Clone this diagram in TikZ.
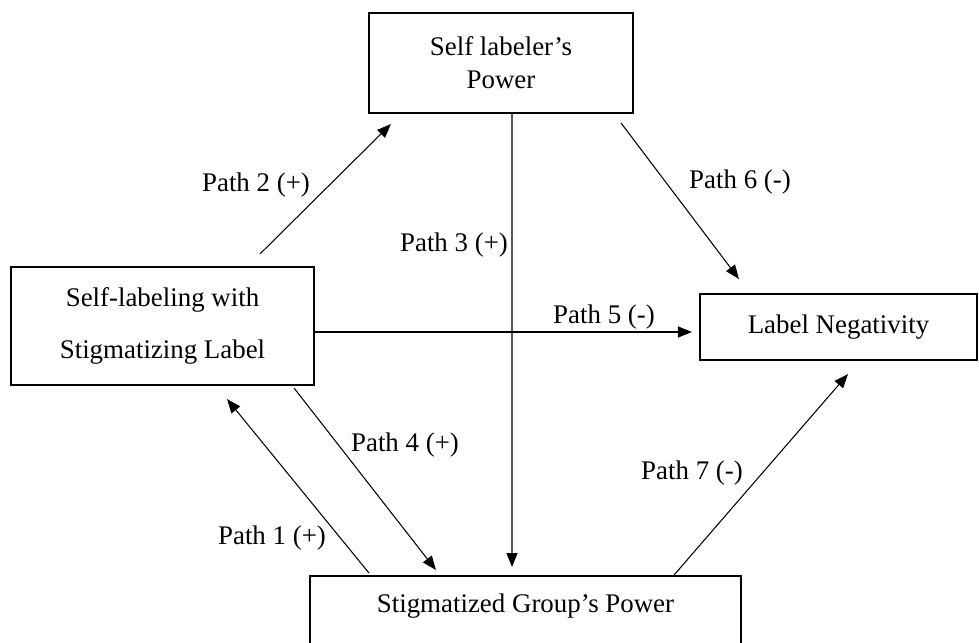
\documentclass[tikz,border=0pt]{standalone}
\usepackage{fontspec}
\setmainfont{Liberation Serif}
\usetikzlibrary{arrows.meta}
\tikzset{
    box/.style={draw, line width=1.2pt, align=center, inner sep=0pt},
    pathlabel/.style={inner sep=0pt},
    arr/.style={-{Triangle[length=0.28cm, width=0.22cm]}, line width=0.6pt}
}

\begin{document}
\begin{tikzpicture}[every node/.style={font=\fontsize{15.3pt}{18.7pt}\selectfont}]

	\useasboundingbox (0,0) rectangle (19.58,-12.84);

		% Les quatre boîtes
		\node[box, minimum width=5.28cm, minimum height=2cm] (power) at (10.02,-1.26)
			{Self labeler’s\\Power};
		\node[box, minimum width=6.06cm, minimum height=2.36cm] (selflab) at (3.25,-6.52)
			{Self-labeling with\\[10.8pt]Stigmatizing Label};
		\node[box, minimum width=5.54cm, minimum height=1.32cm] (neg) at (16.77,-6.54)
			{Label Negativity};
		\node[box, minimum width=8.62cm, text height=0.72cm, text depth=1cm, anchor=north]
			(group) at (10.51,-11.5) {Stigmatized Group’s Power};

		% Flèches des chemins
		\draw[arr] ([xshift=1.95cm, yshift=0.24cm]selflab.north)
			-- ([xshift=0.46cm, yshift=-0.2cm]power.south west);
		\draw[arr] ([xshift=-0.26cm, yshift=-0.18cm]power.south east)
			-- ([xshift=0.8cm, yshift=0.28cm]neg.north west);
		\draw[arr] ([xshift=0.22cm]power.south)
			-- ([xshift=-0.27cm, yshift=0.16cm]group.north);
		\draw[arr] ([yshift=-0.12cm]selflab.east)
			-- ([xshift=-0.14cm, yshift=-0.1cm]neg.west);
		\draw[arr] ([xshift=-0.42cm, yshift=-0.04cm]selflab.south east)
			-- ([xshift=2.54cm, yshift=0.1cm]group.north west);
		\draw[arr] ([xshift=1.2cm, yshift=0.04cm]group.north west)
			-- ([xshift=1.29cm, yshift=-0.26cm]selflab.south);
		\draw[arr] ([xshift=-1.36cm]group.north east)
			-- ([xshift=0.19cm, yshift=-0.26cm]neg.south);

		% Étiquettes
		\node[pathlabel] (l1) at (5.44,-10.76) {Path 1 (+)};
		\node[pathlabel] (l2) at (5.12,-3.7) {Path 2 (+)};
		\node[pathlabel] (l3) at (9.08,-4.9) {Path 3 (+)};
		\node[pathlabel] (l4) at (8.1,-8.9) {Path 4 (+)};
		\node[pathlabel] (l5) at (12.08,-6.34) {Path 5 (-)};
		\node[pathlabel] (l6) at (14.8,-3.64) {Path 6 (-)};
		\node[pathlabel] (l7) at (13.84,-9.46) {Path 7 (-)};

\end{tikzpicture}
\end{document}
